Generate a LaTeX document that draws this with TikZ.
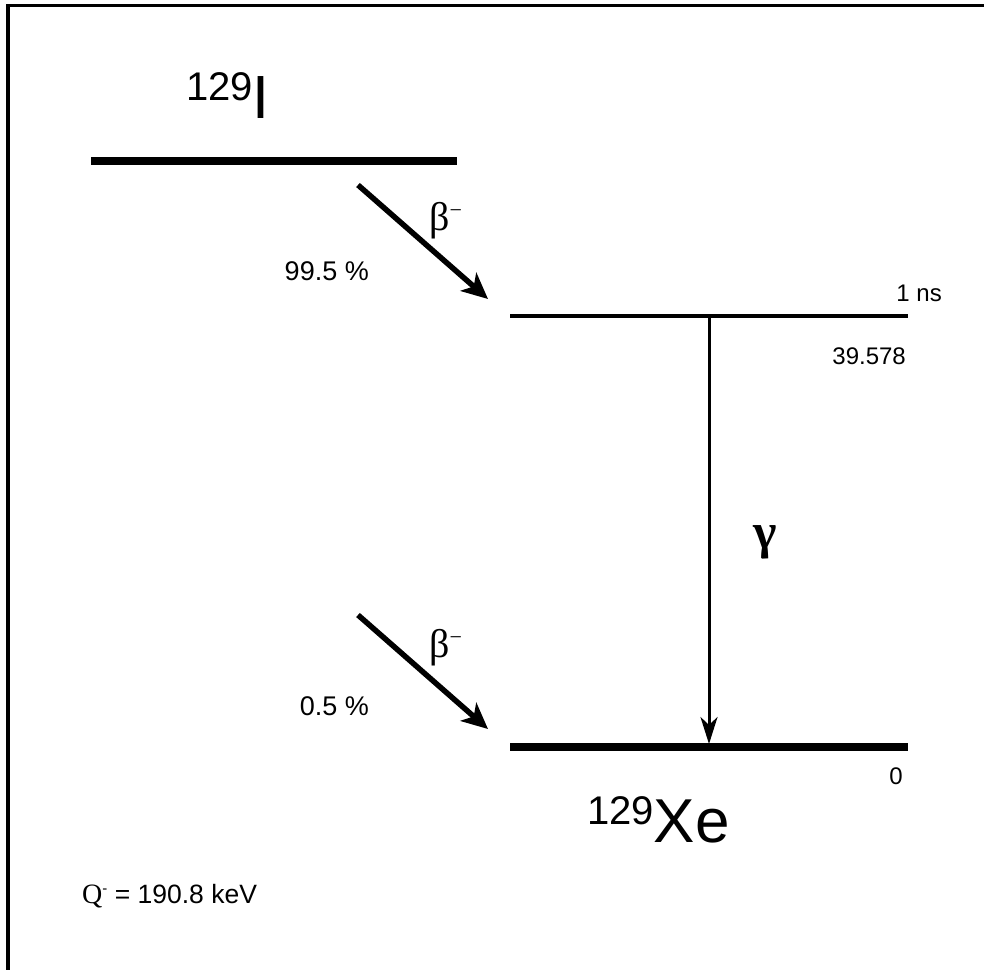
\documentclass[tikz,border=0pt]{standalone}
\usepackage{fontspec}
\setmainfont{Liberation Sans}
\newfontfamily\symfont{Liberation Serif}
\usetikzlibrary{arrows.meta}

\begin{document}
\begin{tikzpicture}[x=1pt,y=-1pt,
  thicklevel/.style={line width=7.5pt},
  thinlevel/.style={line width=3.5pt},
  betaarrow/.style={line width=5.5pt,-{Stealth[length=26pt,width=24pt,inset=7pt]}},
  gammaarrow/.style={line width=3pt,-{Stealth[length=27pt,width=17pt,inset=8pt]}},
  lbl/.style={inner sep=0pt,font=\fontsize{24}{24}\selectfont}]

\useasboundingbox (0,0) rectangle (984,969);

% Frame (only left and top edges are visible)
\draw[line width=3.5pt] (8,995) |- (995,5.5);

% Levels (placed manually)
\coordinate (Il) at (91,161);  \coordinate (Ir) at (457,161);
\coordinate (Xl) at (510,316); \coordinate (Xr) at (908,316);
\coordinate (Gl) at (510,747); \coordinate (Gr) at (908,747);

\draw[thicklevel] (Il) -- (Ir);
\draw[thinlevel] (Xl) -- (Xr);
\draw[thicklevel] (Gl) -- (Gr);

% Nuclides
\node[inner sep=0pt, anchor=base west] (iodine) at (186,118)
  {\fontsize{40}{40}\selectfont\raisebox{18pt}{129}\fontsize{61}{61}\selectfont I};
\node[inner sep=0pt, anchor=base west] (xenon) at (587,842)
  {\fontsize{40}{40}\selectfont\raisebox{18pt}{129}\fontsize{62}{62}\selectfont Xe};

% Level labels
\node[lbl, anchor=base east] (life) at (942,301) {1 ns};
\node[lbl, anchor=base east] (exc) at (906,364) {39.578};
\node[lbl, anchor=base east] (gnd) at (903,784) {0};

% Beta branches
\coordinate (b1s) at (358,185); \coordinate (b1e) at (488,299);
\coordinate (b2s) at (358,615); \coordinate (b2e) at (488,729);

\draw[betaarrow] (b1s) -- (b1e);
\draw[betaarrow] (b2s) -- (b2e);

\node[inner sep=0pt, anchor=base west] (beta1) at (429,230)
  {\symfont\fontsize{40}{40}\selectfont β\raisebox{13pt}{\fontsize{22}{22}\selectfont −}};
\node[inner sep=0pt, anchor=base west] (beta2) at (429,657)
  {\symfont\fontsize{40}{40}\selectfont β\raisebox{13pt}{\fontsize{22}{22}\selectfont −}};

\node[lbl, font=\fontsize{27}{27}\selectfont, anchor=base east] (br1) at (369,280) {99.5 \%};
\node[lbl, font=\fontsize{27}{27}\selectfont, anchor=base east] (br2) at (369,715) {0.5 \%};

% Gamma transition
\coordinate (gs) at (709,316);
\coordinate (ge) at (709,744);
\draw[gammaarrow] (gs) -- (ge);
\node[inner sep=0pt, anchor=base west] (gamma) at (753,548)
  {\symfont\bfseries\fontsize{50}{50}\selectfont γ};

% Q value
\node[lbl, font=\fontsize{26.5}{26.5}\selectfont, anchor=base west] (qval) at (82,903)
  {{\symfont\fontsize{28}{28}\selectfont Q}\raisebox{10pt}{\fontsize{15}{15}\selectfont -} = 190.8 keV};

\end{tikzpicture}
\end{document}
